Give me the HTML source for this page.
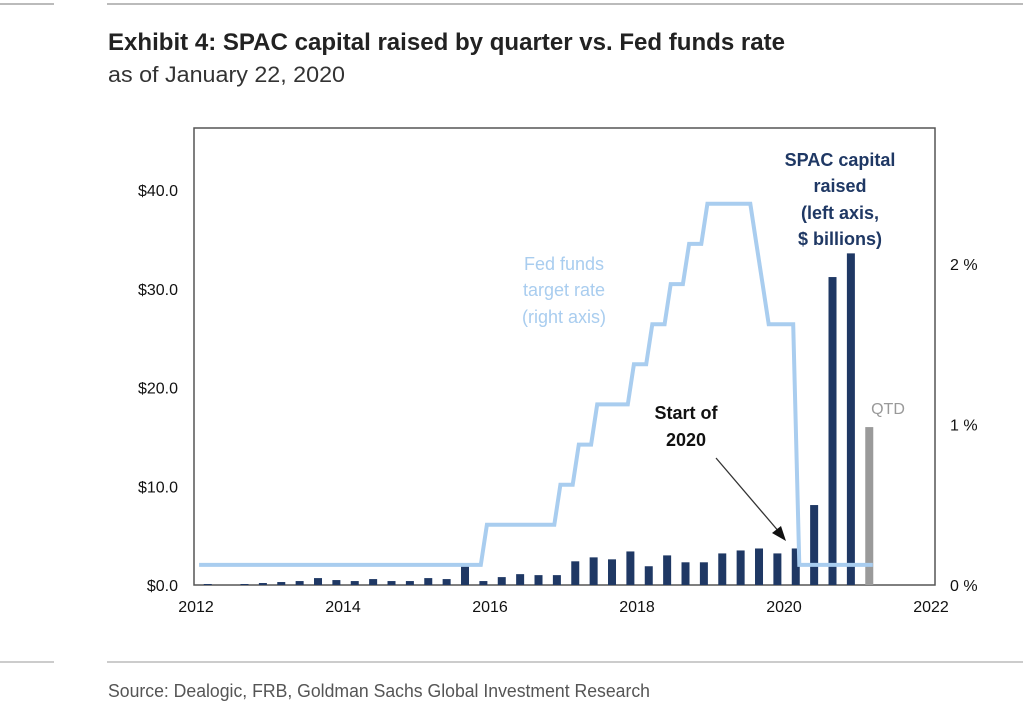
<!DOCTYPE html>
<html><head><meta charset="utf-8"><style>
body{margin:0;width:1023px;height:717px;background:#fff;overflow:hidden;font-family:"Liberation Sans",sans-serif;}
svg{position:absolute;left:0;top:0}
</style></head><body>
<svg id="chart" width="1023" height="717">
<line x1="0" y1="4" x2="54" y2="4" stroke="#bbb" stroke-width="2"/>
<line x1="107" y1="4" x2="1023" y2="4" stroke="#bbb" stroke-width="2"/>
<text x="108" y="50" font-size="24" font-weight="bold" fill="#222" textLength="677" lengthAdjust="spacingAndGlyphs">Exhibit 4: SPAC capital raised by quarter vs. Fed funds rate</text>
<text x="108" y="82" font-size="22" fill="#333" textLength="237" lengthAdjust="spacingAndGlyphs">as of January 22, 2020</text>
<rect x="194" y="128" width="741" height="457" fill="none" stroke="#555" stroke-width="1.5"/>
<g id="bars"></g><g id="line"></g><g id="axes"></g>
<g font-size="18" font-weight="bold" fill="#1f3864" text-anchor="middle">
<text x="840" y="166">SPAC capital</text><text x="840" y="192">raised</text><text x="840" y="219">(left axis,</text><text x="840" y="245">$ billions)</text></g>
<g font-size="18" fill="#a9cdef" text-anchor="middle">
<text x="564" y="270">Fed funds</text><text x="564" y="296">target rate</text><text x="564" y="323">(right axis)</text></g>
<g font-size="18" font-weight="bold" fill="#111" text-anchor="middle">
<text x="686" y="419">Start of</text><text x="686" y="446">2020</text></g>
<line x1="716" y1="458" x2="780" y2="533" stroke="#333" stroke-width="1.3"/>
<polygon points="786,541 772,533 781,526" fill="#111"/>
<text x="888" y="414" font-size="16" fill="#999" text-anchor="middle">QTD</text>
<line x1="0" y1="662" x2="54" y2="662" stroke="#bbb" stroke-width="1.5"/>
<line x1="107" y1="662" x2="1023" y2="662" stroke="#bbb" stroke-width="1.5"/>
<text x="108" y="697" font-size="18" fill="#555" textLength="542" lengthAdjust="spacingAndGlyphs">Source: Dealogic, FRB, Goldman Sachs Global Investment Research</text>
</svg>
<script>
const quarterStartYear = 2012;
const spacValues = [0.1,0,0.1,0.2,0.3,0.4,0.7,0.5,0.4,0.6,0.4,0.4,0.7,0.6,2.2,0.4,0.8,1.1,1.0,1.0,2.4,2.8,2.6,3.4,1.9,3.0,2.3,2.3,3.2,3.5,3.7,3.2,3.7,8.1,31.2,33.6,16.0];
const qtdIndex = 36;
const rateChangeMonths = ["2012-01","2015-12","2016-12","2017-03","2017-06","2017-12","2018-03","2018-06","2018-09","2018-12","2019-08","2019-09","2019-10","2020-03"];
const rateValues = [0.125,0.375,0.625,0.875,1.125,1.375,1.625,1.875,2.125,2.375,2.125,1.875,1.625,0.125];
const rateEndMonth = "2021-03";
const leftTicks = [0,10,20,30,40];
const rightTicks = [0,1,2];
const xTicks = [2012,2014,2016,2018,2020,2022];

const NS="http://www.w3.org/2000/svg";
const x = t => 196 + (t-2012)*73.5;
const yL = v => 585 - v*9.87;
const yR = v => 585 - v*160.5;
function mk(tag,attrs,parent){const e=document.createElementNS(NS,tag);for(const k in attrs)e.setAttribute(k,attrs[k]);document.getElementById(parent).appendChild(e);return e;}

spacValues.forEach((v,i)=>{
  const t = quarterStartYear + i*0.25 + 0.16;
  const r = mk('rect',{x:x(t)-4,y:yL(v),width:8,height:Math.max(0,585-yL(v)),fill:i===qtdIndex?'#9a9a9a':'#1f3864'},'bars');
  
  
});

const mIdx = s => {const [a,b]=s.split('-').map(Number);return a*12+b-1;};
const pts=[];
const endI=mIdx(rateEndMonth);
for(let m=mIdx(rateChangeMonths[0]); m<=endI; m++){
  let r=rateValues[0];
  rateChangeMonths.forEach((s,k)=>{if(mIdx(s)<=m) r=rateValues[k];});
  const t=Math.floor(m/12)+((m%12)+0.5)/12;
  pts.push(x(t).toFixed(1)+','+yR(r).toFixed(1));
}
const pl=mk('polyline',{points:pts.join(' '),fill:'none',stroke:'#a9cdef','stroke-width':4,'stroke-linejoin':'miter'},'line');



leftTicks.forEach(v=>{
  const t=mk('text',{x:178,y:yL(v)+6,'font-size':16,'text-anchor':'end',fill:'#111'},'axes');
  t.textContent='$'+v.toFixed(1);
  
  
});
rightTicks.forEach(v=>{
  const t=mk('text',{x:950,y:yR(v)+6,'font-size':16,fill:'#111'},'axes');
  t.textContent=v+' %';
  
  
});
xTicks.forEach(v=>{
  const t=mk('text',{x:x(v),y:612,'font-size':16,'text-anchor':'middle',fill:'#111'},'axes');
  t.textContent=v;
  
  
});
</script>
</body></html>
